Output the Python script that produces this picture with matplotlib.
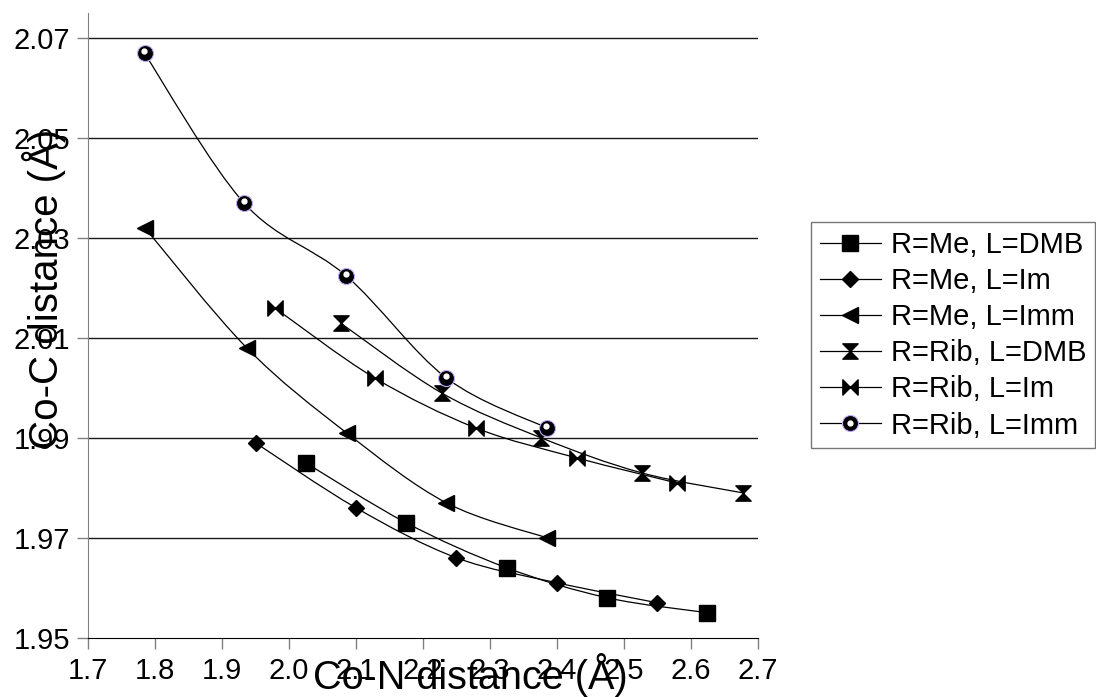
import numpy as np
import matplotlib
matplotlib.use("Agg")
import matplotlib.pyplot as plt
from matplotlib.path import Path
from matplotlib.patches import PathPatch
from matplotlib.lines import Line2D
from matplotlib.legend_handler import HandlerTuple
from matplotlib.transforms import offset_copy

plt.rcParams['font.family'] = ['Liberation Sans', 'DejaVu Sans']

# Co-N distance (x) and Co-C distance (y) per series
me_dmb_x = [2.025, 2.175, 2.325, 2.475, 2.625]
me_dmb_y = [1.985, 1.973, 1.964, 1.958, 1.955]
me_im_x = [1.950, 2.100, 2.250, 2.400, 2.550]
me_im_y = [1.989, 1.976, 1.966, 1.961, 1.957]
me_imm_x = [1.785, 1.937, 2.086, 2.235, 2.385]
me_imm_y = [2.032, 2.008, 1.991, 1.977, 1.970]
rib_dmb_x = [2.077, 2.228, 2.377, 2.527, 2.678]
rib_dmb_y = [2.013, 1.999, 1.990, 1.983, 1.979]
rib_im_x = [1.979, 2.128, 2.279, 2.430, 2.579]
rib_im_y = [2.016, 2.002, 1.992, 1.986, 1.981]
rib_imm_x = [1.784, 1.933, 2.085, 2.235, 2.385]
rib_imm_y = [2.067, 2.037, 2.0225, 2.002, 1.992]

labels = ["R=Me, L=DMB", "R=Me, L=Im", "R=Me, L=Imm",
          "R=Rib, L=DMB", "R=Rib, L=Im", "R=Rib, L=Imm"]

xticks = [1.7, 1.8, 1.9, 2.0, 2.1, 2.2, 2.3, 2.4, 2.5, 2.6, 2.7]
yticks = [1.95, 1.97, 1.99, 2.01, 2.03, 2.05, 2.07]

# custom markers
hourglass = Path([(-1, 1), (1, 1), (0, 0), (-1, 1),
                  (-1, -1), (1, -1), (0, 0), (-1, -1)],
                 [Path.MOVETO, Path.LINETO, Path.LINETO, Path.CLOSEPOLY,
                  Path.MOVETO, Path.LINETO, Path.LINETO, Path.CLOSEPOLY])
bowtie = Path([(-1, 1), (-1, -1), (0, 0), (-1, 1),
               (1, 1), (1, -1), (0, 0), (1, 1)],
              [Path.MOVETO, Path.LINETO, Path.LINETO, Path.CLOSEPOLY,
               Path.MOVETO, Path.LINETO, Path.LINETO, Path.CLOSEPOLY])


def smooth_path(xs, ys):
    # Bezier curve through the points (like a spreadsheet "smoothed line")
    p = np.column_stack([xs, ys])
    n = len(p)
    verts = [p[0]]
    codes = [Path.MOVETO]
    for i in range(n - 1):
        p0 = p[i - 1] if i > 0 else p[i]
        p3 = p[i + 2] if i + 2 < n else p[i + 1]
        c1 = p[i] + (p[i + 1] - p0) / 6.0
        c2 = p[i + 1] - (p3 - p[i]) / 6.0
        verts += [c1, c2, p[i + 1]]
        codes += [Path.CURVE4] * 3
    return Path(verts, codes)


fig = plt.figure(figsize=(10.96, 6.97), dpi=100)
ax = fig.add_axes([0.0806, 0.0851, 0.6107, 0.8962])

series = [
    (me_dmb_x, me_dmb_y, dict(marker='s', markersize=11)),
    (me_im_x, me_im_y, dict(marker='D', markersize=8.5)),
    (me_imm_x, me_imm_y, dict(marker='<', markersize=12)),
    (rib_dmb_x, rib_dmb_y, dict(marker=hourglass, markersize=11)),
    (rib_im_x, rib_im_y, dict(marker=bowtie, markersize=11)),
    (rib_imm_x, rib_imm_y, dict(marker='o', markersize=11.5,
                                markeredgecolor='#c4a8ff', markeredgewidth=0.8)),
]

handles = []
for (xs, ys, mk), lab in zip(series, labels):
    ax.add_patch(PathPatch(smooth_path(xs, ys), facecolor='none',
                           edgecolor='black', lw=0.9, zorder=3))
    opts = dict(color='black', markerfacecolor='black', markeredgecolor='black',
                linestyle='none')
    opts.update(mk)
    ax.plot(xs, ys, zorder=4, **opts)
    h = Line2D([], [], lw=0.9, **{k: v for k, v in opts.items() if k != 'linestyle'})
    handles.append(h)

# white highlight on the sphere markers
hl_trans = offset_copy(ax.transData, fig=fig, x=-0.5, y=2, units='dots')
ax.plot(rib_imm_x, rib_imm_y, linestyle='none', marker='o', markersize=3.5,
        markerfacecolor='white', markeredgecolor='white', transform=hl_trans,
        zorder=5)
hl = Line2D([], [], linestyle='none', marker='o', markersize=3.5,
            markerfacecolor='white', markeredgecolor='white')
handles[5] = (handles[5], hl)

ax.set_xlim(1.7, 2.7)
ax.set_ylim(1.95, 2.0751)
ax.set_xticks(xticks)
ax.set_xticklabels([f"{v:.1f}" for v in xticks])
ax.set_yticks(yticks)
ax.set_yticklabels([f"{v:.2f}" for v in yticks])
ax.tick_params(axis='both', labelsize=21, direction='out', length=8,
               width=1, color='#808080')
ax.tick_params(axis='x', pad=6)
ax.tick_params(axis='y', pad=5)

for y in yticks[1:]:
    ax.axhline(y, color='#1a1a1a', lw=1.0, zorder=1)

ax.spines['top'].set_visible(False)
ax.spines['right'].set_visible(False)
ax.spines['left'].set_color('#808080')
ax.spines['bottom'].set_color('black')

fig.text(0.429, 0.032, "Co-N distance (Å)", fontsize=28.5, ha='center', va='center')
fig.text(0.040, 0.585, "Co-C distance (Å)", fontsize=29, ha='center', va='center',
         rotation=90)

leg = fig.legend(handles, labels, loc='upper left',
                 bbox_to_anchor=(811 / 1096, 1 - 222 / 697),
                 fontsize=21, frameon=True, fancybox=False, edgecolor='#555555',
                 handlelength=2.1, handletextpad=0.35, labelspacing=0.28,
                 borderpad=0.3, borderaxespad=0,
                 handler_map={tuple: HandlerTuple(ndivide=1, pad=0)})
leg.get_frame().set_linewidth(1.0)

fig.savefig("out.png", dpi=100)
